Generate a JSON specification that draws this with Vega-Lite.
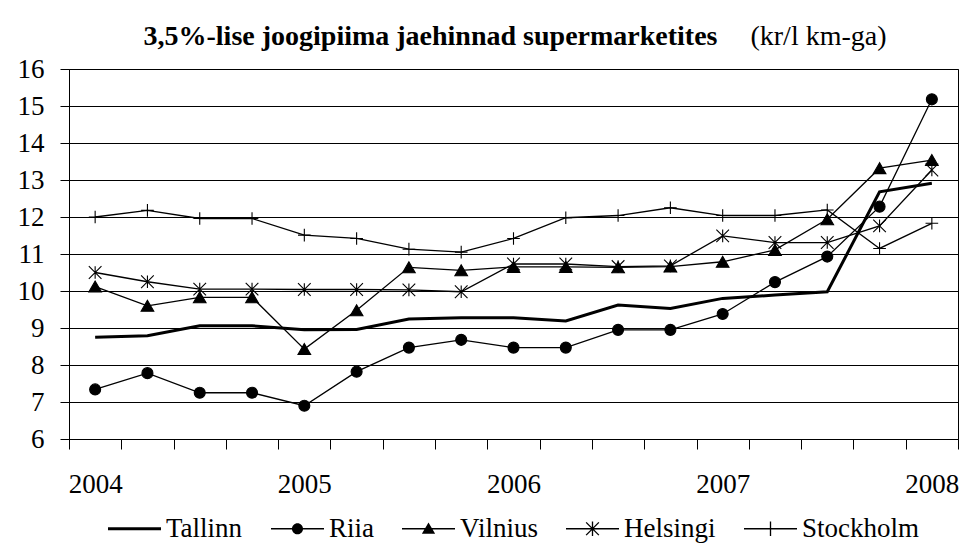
{
  "$schema": "https://vega.github.io/schema/vega-lite/v6.json",
  "width": 889,
  "height": 370,
  "autosize": {"type": "none"},
  "padding": {"left": 69, "top": 69, "right": 5, "bottom": 108},
  "background": "white",
  "title": {
    "text": "3,5%-lise joogipiima jaehinnad supermarketites",
    "subtitle": "(kr/l km-ga)",
    "anchor": "middle",
    "font": "Liberation Serif, Times New Roman, DejaVu Serif, serif",
    "fontSize": 28,
    "fontWeight": "bold",
    "color": "black",
    "subtitleFont": "Liberation Serif, Times New Roman, DejaVu Serif, serif",
    "subtitleFontSize": 28,
    "subtitleFontWeight": "normal",
    "subtitleColor": "black",
    "subtitlePadding": -28,
    "offset": 4,
    "encode": {
      "title": {"update": {"dx": {"value": -83}}},
      "subtitle": {"update": {"dx": {"value": 305}}}
    }
  },
  "data": {
    "values": [
      {"q": "2004 Q1", "Tallinn": 8.75, "Riia": 7.34, "Vilnius": 10.12, "Helsingi": 10.50, "Stockholm": 12.00},
      {"q": "2004 Q2", "Tallinn": 8.79, "Riia": 7.78, "Vilnius": 9.60, "Helsingi": 10.25, "Stockholm": 12.18},
      {"q": "2004 Q3", "Tallinn": 9.06, "Riia": 7.25, "Vilnius": 9.83, "Helsingi": 10.05, "Stockholm": 11.96},
      {"q": "2004 Q4", "Tallinn": 9.06, "Riia": 7.25, "Vilnius": 9.83, "Helsingi": 10.05, "Stockholm": 11.96},
      {"q": "2005 Q1", "Tallinn": 8.95, "Riia": 6.90, "Vilnius": 8.43, "Helsingi": 10.04, "Stockholm": 11.51},
      {"q": "2005 Q2", "Tallinn": 8.96, "Riia": 7.82, "Vilnius": 9.48, "Helsingi": 10.04, "Stockholm": 11.42},
      {"q": "2005 Q3", "Tallinn": 9.24, "Riia": 8.47, "Vilnius": 10.64, "Helsingi": 10.03, "Stockholm": 11.13},
      {"q": "2005 Q4", "Tallinn": 9.28, "Riia": 8.68, "Vilnius": 10.56, "Helsingi": 9.98, "Stockholm": 11.05},
      {"q": "2006 Q1", "Tallinn": 9.28, "Riia": 8.47, "Vilnius": 10.65, "Helsingi": 10.73, "Stockholm": 11.42},
      {"q": "2006 Q2", "Tallinn": 9.19, "Riia": 8.47, "Vilnius": 10.65, "Helsingi": 10.73, "Stockholm": 11.98},
      {"q": "2006 Q3", "Tallinn": 9.62, "Riia": 8.95, "Vilnius": 10.64, "Helsingi": 10.66, "Stockholm": 12.04},
      {"q": "2006 Q4", "Tallinn": 9.53, "Riia": 8.95, "Vilnius": 10.66, "Helsingi": 10.68, "Stockholm": 12.25},
      {"q": "2007 Q1", "Tallinn": 9.80, "Riia": 9.38, "Vilnius": 10.79, "Helsingi": 11.49, "Stockholm": 12.04},
      {"q": "2007 Q2", "Tallinn": 9.89, "Riia": 10.24, "Vilnius": 11.11, "Helsingi": 11.31, "Stockholm": 12.04},
      {"q": "2007 Q3", "Tallinn": 9.98, "Riia": 10.93, "Vilnius": 11.94, "Helsingi": 11.31, "Stockholm": 12.19},
      {"q": "2007 Q4", "Tallinn": 12.68, "Riia": 12.28, "Vilnius": 13.32, "Helsingi": 11.76, "Stockholm": 11.15},
      {"q": "2008 Q1", "Tallinn": 12.91, "Riia": 15.18, "Vilnius": 13.54, "Helsingi": 13.27, "Stockholm": 11.83}
    ]
  },
  "transform": [
    {"fold": ["Tallinn", "Riia", "Vilnius", "Helsingi", "Stockholm"], "as": ["linn", "hind"]}
  ],
  "encoding": {
    "x": {
      "field": "q",
      "type": "ordinal",
      "sort": null,
      "bandPosition": 0.5,
      "scale": {"type": "band", "paddingInner": 0, "paddingOuter": 0},
      "axis": {
        "title": null,
        "labelExpr": "datum.label && indexof(datum.label, 'Q1') >= 0 ? slice(datum.label, 0, 4) : ''",
        "labelAngle": 0,
        "tickBand": "extent",
        "tickSize": 10,
        "tickColor": "black",
        "domainColor": "black",
        "labelFont": "Liberation Serif, Times New Roman, DejaVu Serif, serif",
        "labelFontSize": 27,
        "labelColor": "black",
        "labelPadding": 22,
        "labelOverlap": false,
        "labelBound": false,
        "grid": false
      }
    },
    "y": {
      "field": "hind",
      "type": "quantitative",
      "scale": {"domain": [6, 16], "nice": false, "zero": false},
      "axis": {
        "title": null,
        "values": [6, 7, 8, 9, 10, 11, 12, 13, 14, 15, 16],
        "grid": true,
        "gridColor": "black",
        "gridWidth": 1,
        "tickSize": 9,
        "tickColor": "black",
        "domainColor": "black",
        "labelFont": "Liberation Serif, Times New Roman, DejaVu Serif, serif",
        "labelFontSize": 27,
        "labelColor": "black",
        "labelPadding": 16
      }
    }
  },
  "layer": [
    {
      "mark": {"type": "line", "color": "black"},
      "encoding": {
        "detail": {"field": "linn", "type": "nominal"},
        "strokeWidth": {"condition": {"test": "datum.linn === 'Tallinn'", "value": 3}, "value": 1.3}
      }
    },
    {
      "transform": [{"filter": "datum.linn !== 'Tallinn'"}],
      "mark": {"type": "point", "filled": true, "fill": "black", "stroke": "black", "strokeWidth": 1.1, "opacity": 1},
      "encoding": {
        "shape": {
          "condition": [
            {"test": "datum.linn === 'Riia'", "value": "circle"},
            {"test": "datum.linn === 'Vilnius'", "value": "triangle-up"},
            {"test": "datum.linn === 'Helsingi'", "value": "M-1,-1L1,1M-1,1L1,-1M0,-1L0,1"}
          ],
          "value": "M-1,0L1,0M0,-1L0,1"
        },
        "size": {
          "condition": [
            {"test": "datum.linn === 'Riia'", "value": 121},
            {"test": "datum.linn === 'Vilnius'", "value": 160}
          ],
          "value": 160
        }
      }
    },
    {
      "mark": {"type": "point", "filled": true, "fill": "black", "stroke": "black", "strokeWidth": 1, "opacity": 0, "size": 10},
      "encoding": {
        "shape": {
          "field": "linn",
          "type": "nominal",
          "scale": {
            "domain": ["Tallinn", "Riia", "Vilnius", "Helsingi", "Stockholm"],
            "range": [
              "M-1,-0.055L1,-0.055L1,0.055L-1,0.055Z",
              "M-1,-0.025L1,-0.025L1,0.025L-1,0.025ZM-0.21,0A0.21,0.21,0,1,1,0.21,0A0.21,0.21,0,1,1,-0.21,0Z",
              "M-1,-0.025L1,-0.025L1,0.025L-1,0.025ZM0,-0.24L0.25,0.19L-0.25,0.19Z",
              "M-1,-0.025L1,-0.025L1,0.025L-1,0.025ZM-0.025,-0.27L0.025,-0.27L0.025,0.27L-0.025,0.27ZM-0.222,-0.258L0.258,0.222L0.222,0.258L-0.258,-0.222ZM-0.258,0.222L0.222,-0.258L0.258,-0.222L-0.222,0.258Z",
              "M-1,-0.025L1,-0.025L1,0.025L-1,0.025ZM-0.025,-0.27L0.025,-0.27L0.025,0.27L-0.025,0.27Z"
            ]
          },
          "legend": {
            "title": null,
            "orient": "bottom",
            "direction": "horizontal",
            "symbolSize": 2809,
            "symbolOpacity": 1,
            "symbolStrokeColor": "black",
            "symbolFillColor": "black",
            "symbolStrokeWidth": 0,
            "labelFont": "Liberation Serif, Times New Roman, DejaVu Serif, serif",
            "labelFontSize": 27,
            "labelColor": "black",
            "labelOffset": 5,
            "columnPadding": 28,
            "offset": 5
          }
        }
      }
    }
  ],
  "config": {
    "view": {"stroke": "black", "strokeWidth": 1},
    "font": "Liberation Serif, Times New Roman, DejaVu Serif, serif",
    "legend": {"layout": {"bottom": {"anchor": "middle"}}}
  }
}
